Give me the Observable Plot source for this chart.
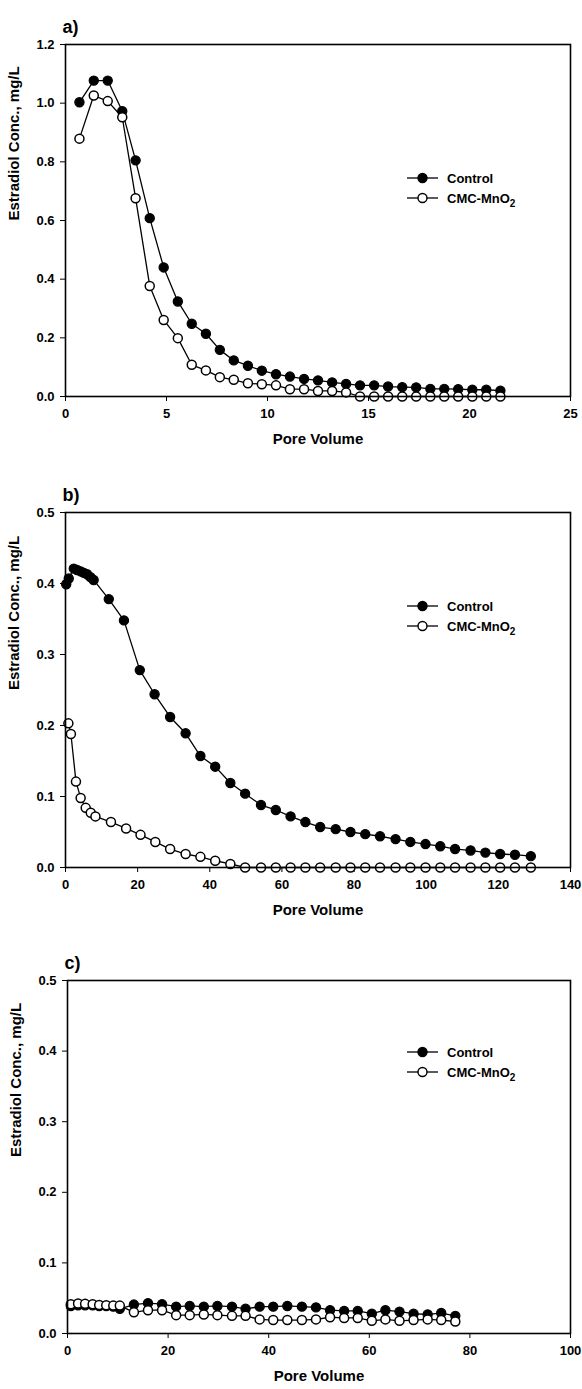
<!DOCTYPE html>
<html>
<head>
<meta charset="utf-8">
<script src="https://cdn.jsdelivr.net/npm/d3@7"></script>
<script src="https://cdn.jsdelivr.net/npm/@observablehq/plot@0.6"></script>
<style>
  body { margin: 0; background: #fff; }
  #chart svg { display: block; }
</style>
</head>
<body>
<div id="chart"></div>
<script>
// Series names used in every panel
const seriesNames = ["Control", "CMC-MnO2"];

// Panel a) — pore volume and estradiol concentration (mg/L)
const aPore = [0.69, 1.40, 2.09, 2.81, 3.47, 4.17, 4.86, 5.56, 6.25, 6.95, 7.64, 8.33, 9.03, 9.72, 10.42, 11.11,
  11.81, 12.50, 13.20, 13.89, 14.58, 15.28, 15.97, 16.67, 17.36, 18.06, 18.75, 19.44, 20.14, 20.83, 21.53];
const aControl = [1.003, 1.077, 1.077, 0.973, 0.805, 0.608, 0.440, 0.324, 0.248, 0.214, 0.159, 0.123, 0.105, 0.088,
  0.076, 0.068, 0.060, 0.055, 0.048, 0.043, 0.038, 0.038, 0.034, 0.032, 0.031, 0.026, 0.026, 0.025, 0.023, 0.023, 0.020];
const aCMC = [0.879, 1.026, 1.007, 0.952, 0.676, 0.377, 0.261, 0.199, 0.108, 0.089, 0.066, 0.057, 0.045, 0.042,
  0.038, 0.025, 0.025, 0.019, 0.019, 0.014, 0, 0, 0, 0, 0, 0, 0, 0, 0, 0, 0];

// Panel b)
const bPoreControl = [0.2, 0.9, 2.3, 3.2, 4.2, 5.1, 6.0, 6.9, 7.8, 12.0, 16.2, 20.6, 24.7, 29.0, 33.3, 37.4, 41.5,
  45.7, 49.8, 54.2, 58.3, 62.4, 66.5, 70.6, 74.9, 79.0, 83.1, 87.2, 91.5, 95.6, 99.8, 103.9, 108.0, 112.3, 116.4,
  120.5, 124.6, 129.0];
const bControl = [0.399, 0.407, 0.421, 0.419, 0.417, 0.415, 0.413, 0.409, 0.405, 0.378, 0.348, 0.278, 0.244, 0.212,
  0.189, 0.157, 0.142, 0.119, 0.104, 0.088, 0.081, 0.072, 0.064, 0.057, 0.054, 0.050, 0.047, 0.044, 0.040, 0.036,
  0.033, 0.030, 0.026, 0.024, 0.021, 0.019, 0.018, 0.016];
const bPoreCMC = [0.8, 1.5, 2.9, 4.2, 5.6, 7.0, 8.3, 12.6, 16.8, 20.8, 24.9, 29.0, 33.3, 37.4, 41.5, 45.7, 49.8,
  54.2, 58.3, 62.4, 66.5, 70.6, 74.9, 79.0, 83.1, 87.2, 91.5, 95.6, 99.8, 103.9, 108.0, 112.3, 116.4, 120.5, 124.6,
  129.0];
const bCMC = [0.203, 0.188, 0.121, 0.098, 0.084, 0.077, 0.072, 0.064, 0.055, 0.046, 0.036, 0.026, 0.019, 0.015,
  0.0095, 0.005, 0, 0, 0, 0, 0, 0, 0, 0, 0, 0, 0, 0, 0, 0, 0, 0, 0, 0, 0, 0];

// Panel c)
const cPore = [0.66, 2.1, 3.5, 5.0, 6.3, 7.7, 9.1, 10.4, 13.2, 16.0, 18.8, 21.6, 24.3, 27.1, 29.8, 32.7, 35.4,
  38.2, 40.9, 43.7, 46.6, 49.4, 52.2, 55.0, 57.7, 60.5, 63.2, 66.0, 68.8, 71.6, 74.3, 77.1];
const cControl = [0.039, 0.040, 0.040, 0.040, 0.039, 0.039, 0.038, 0.035, 0.041, 0.043, 0.0415, 0.038, 0.039,
  0.038, 0.039, 0.038, 0.035, 0.038, 0.038, 0.039, 0.038, 0.037, 0.033, 0.032, 0.032, 0.028, 0.033, 0.031, 0.028,
  0.027, 0.029, 0.025];
const cCMC = [0.0415, 0.0425, 0.042, 0.0415, 0.0405, 0.040, 0.0395, 0.0395, 0.030, 0.033, 0.033, 0.026, 0.026,
  0.027, 0.026, 0.025, 0.025, 0.020, 0.019, 0.019, 0.019, 0.020, 0.023, 0.022, 0.022, 0.018, 0.020, 0.018, 0.019,
  0.020, 0.019, 0.017];

// Axis ticks
const aXTicks = [0, 5, 10, 15, 20, 25];
const aYTicks = [0, 0.2, 0.4, 0.6, 0.8, 1.0, 1.2];
const bXTicks = [0, 20, 40, 60, 80, 100, 120, 140];
const bYTicks = [0, 0.1, 0.2, 0.3, 0.4, 0.5];
const cXTicks = [0, 20, 40, 60, 80, 100];
const cYTicks = [0, 0.1, 0.2, 0.3, 0.4, 0.5];

const FONT = "'Liberation Sans', Arial, Helvetica, sans-serif";
const toRows = (xs, ys) => xs.map((x, i) => ({pore: x, conc: ys[i]}));

function panel({label, ctrlX, ctrlY, cmcX, cmcY, xDomain, xTicks, yDomain, yTicks,
                height, marginLeft, marginBottom, legendTop}) {
  const ctrl = toRows(ctrlX, ctrlY);
  const cmc = toRows(cmcX, cmcY);
  const svg = Plot.plot({
    width: 582,
    height,
    marginTop: 44,
    marginRight: 12,
    marginLeft,
    marginBottom,
    style: {fontFamily: FONT, fontSize: "13px", fontWeight: "bold", color: "black", background: "white"},
    x: {domain: xDomain, ticks: xTicks, tickSize: 5, tickPadding: 7, label: null, tickFormat: d3.format("d")},
    y: {domain: yDomain, ticks: yTicks, tickSize: 5, tickPadding: 6, label: null, tickFormat: d3.format(".1f")},
    marks: [
      Plot.line(ctrl, {x: "pore", y: "conc", stroke: "black", strokeWidth: 1.3}),
      Plot.dot(ctrl, {x: "pore", y: "conc", r: 4.6, fill: "black", stroke: "black", strokeWidth: 1.2}),
      Plot.line(cmc, {x: "pore", y: "conc", stroke: "black", strokeWidth: 1.3}),
      Plot.dot(cmc, {x: "pore", y: "conc", r: 4.5, fill: "white", stroke: "black", strokeWidth: 1.5}),
      Plot.frame({stroke: "black", strokeWidth: 1.6}),
      Plot.text([label], {frameAnchor: "top-left", text: d => d, textAnchor: "start", dx: -3, dy: -24,
        fontSize: 18, fontWeight: "bold"}),
      Plot.text(["Pore Volume"], {frameAnchor: "bottom", text: d => d, dy: 47, fontSize: 15, fontWeight: "bold"}),
      Plot.text(["Estradiol Conc., mg/L"], {frameAnchor: "left", text: d => d, dx: -51, rotate: -90,
        fontSize: 15, fontWeight: "bold"})
    ]
  });

  // Legend: line-and-symbol key for each series
  const g = d3.select(svg).append("g")
    .attr("font-family", FONT).attr("font-weight", "bold").attr("font-size", 13)
    .attr("text-anchor", "start");
  seriesNames.forEach((name, i) => {
    const y = legendTop + i * 20;
    g.append("line").attr("x1", 407).attr("x2", 438).attr("y1", y).attr("y2", y)
      .attr("stroke", "black").attr("stroke-width", 1.3);
    g.append("circle").attr("cx", 422.5).attr("cy", y).attr("r", 4.5)
      .attr("fill", i === 0 ? "black" : "white").attr("stroke", "black").attr("stroke-width", 1.4);
    const t = g.append("text").attr("x", 447).attr("y", y).attr("dy", "0.35em")
      .attr("text-anchor", "start");
    if (name === "CMC-MnO2") {
      t.append("tspan").text("CMC-MnO");
      t.append("tspan").attr("font-size", 10).attr("dy", 4).text("2");
    } else {
      t.text(name);
    }
  });
  return svg;
}

const root = document.getElementById("chart");
root.append(panel({
  label: "a)", ctrlX: aPore, ctrlY: aControl, cmcX: aPore, cmcY: aCMC,
  xDomain: [0, 25], xTicks: aXTicks, yDomain: [0, 1.2], yTicks: aYTicks,
  height: 468, marginLeft: 65, marginBottom: 72, legendTop: 178
}));
root.append(panel({
  label: "b)", ctrlX: bPoreControl, ctrlY: bControl, cmcX: bPoreCMC, cmcY: bCMC,
  xDomain: [0, 140], xTicks: bXTicks, yDomain: [0, 0.5], yTicks: bYTicks,
  height: 468, marginLeft: 65, marginBottom: 69, legendTop: 138
}));
root.append(panel({
  label: "c)", ctrlX: cPore, ctrlY: cControl, cmcX: cPore, cmcY: cCMC,
  xDomain: [0, 100], xTicks: cXTicks, yDomain: [0, 0.5], yTicks: cYTicks,
  height: 453, marginLeft: 67, marginBottom: 56, legendTop: 116
}));
</script>
</body>
</html>
